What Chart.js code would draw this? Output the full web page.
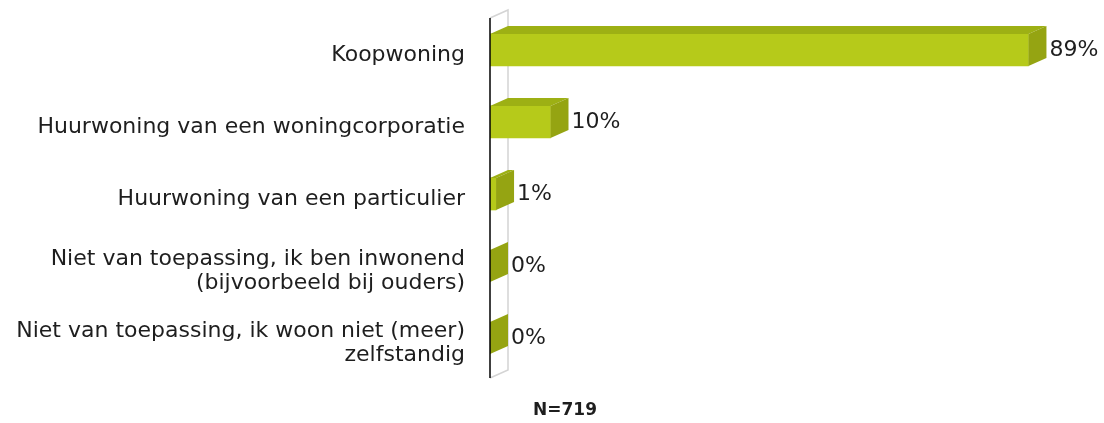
<!DOCTYPE html>
<html>
<head>
<meta charset="utf-8">
<script src="https://cdn.jsdelivr.net/npm/chart.js@4/dist/chart.umd.min.js"></script>
<style>
  html, body { margin: 0; padding: 0; background: #fff; }
  #wrap { width: 1104px; height: 423px; }
</style>
</head>
<body>
<div id="wrap"><canvas id="chart" width="1104" height="423"></canvas></div>
<script>
// --- Data ---------------------------------------------------------------
const categories = [
  'Koopwoning',
  'Huurwoning van een woningcorporatie',
  'Huurwoning van een particulier',
  ['Niet van toepassing, ik ben inwonend', '(bijvoorbeeld bij ouders)'],
  ['Niet van toepassing, ik woon niet (meer)', 'zelfstandig']
];
const percentages = [89, 10, 1, 0, 0];
const sampleLabel = 'N=719';

// --- Style ----------------------------------------------------------------
const FONT = '"DejaVu Sans", Verdana, sans-serif';
const TEXT = '#1e1e1e';
const FRONT = '#b6ca1a';
const TOP = '#9db014';
const SIDE = '#95a412';
const DX = 18, DY = 8; // 3D depth

// pseudo 3D: wall, top and side faces, value labels
const bar3d = {
  id: 'bar3d',
  beforeDatasetsDraw(chart) {
    const { ctx, chartArea: a } = chart;
    ctx.save();
    ctx.strokeStyle = '#d4d4d4';
    ctx.lineWidth = 1.5;
    ctx.beginPath();
    ctx.moveTo(a.left, a.top + 4);
    ctx.lineTo(a.left + DX, a.top + 4 - DY);
    ctx.lineTo(a.left + DX, a.bottom + 4 - DY);
    ctx.lineTo(a.left, a.bottom + 4);
    ctx.stroke();
    ctx.restore();
  },
  afterDatasetsDraw(chart) {
    const { ctx, chartArea: a } = chart;
    const meta = chart.getDatasetMeta(0);
    ctx.save();
    meta.data.forEach((el, i) => {
      const { x, y, base, height } = el.getProps(['x', 'y', 'base', 'height'], true);
      const t = y - height / 2, b = y + height / 2;
      // top face
      ctx.fillStyle = TOP;
      ctx.beginPath();
      ctx.moveTo(base, t);
      ctx.lineTo(x, t);
      ctx.lineTo(x + DX, t - DY);
      ctx.lineTo(base + DX, t - DY);
      ctx.closePath();
      ctx.fill();
      // side face
      ctx.fillStyle = SIDE;
      ctx.beginPath();
      ctx.moveTo(x, t);
      ctx.lineTo(x + DX, t - DY);
      ctx.lineTo(x + DX, b - DY);
      ctx.lineTo(x, b);
      ctx.closePath();
      ctx.fill();
      // value label
      ctx.fillStyle = TEXT;
      ctx.font = '22px ' + FONT;
      ctx.textAlign = 'left';
      ctx.textBaseline = 'middle';
      ctx.fillText(percentages[i] + '%', x + DX + 3, y);
    });
    // front axis line
    ctx.strokeStyle = '#000';
    ctx.lineWidth = 1.5;
    ctx.beginPath();
    ctx.moveTo(a.left, a.top + 4);
    ctx.lineTo(a.left, a.bottom + 4);
    ctx.stroke();
    // sample size
    ctx.font = 'bold 17px ' + FONT;
    ctx.textAlign = 'center';
    ctx.fillText(sampleLabel, 565, 411);
    ctx.restore();
  }
};

new Chart(document.getElementById('chart'), {
  type: 'bar',
  data: {
    labels: categories,
    datasets: [{
      data: percentages,
      backgroundColor: FRONT,
      borderWidth: 0,
      barThickness: 32
    }]
  },
  options: {
    indexAxis: 'y',
    responsive: false,
    animation: false,
    layout: { padding: { top: 14, bottom: 49, right: 9, left: 0 } },
    plugins: { legend: { display: false }, tooltip: { enabled: false } },
    scales: {
      x: { display: false, min: 0, max: 100 },
      y: {
        border: { display: false },
        grid: { display: false, drawTicks: false },
        ticks: {
          color: TEXT,
          font: { family: FONT, size: 22, lineHeight: 1.08 },
          padding: 25,
          labelOffset: 5,
          crossAlign: 'near'
        },
        afterFit(scale) {
          scale.width = 490;
          scale.paddingTop = 0;
          scale.paddingBottom = 0;
        }
      }
    }
  },
  plugins: [bar3d]
});
</script>
</body>
</html>
